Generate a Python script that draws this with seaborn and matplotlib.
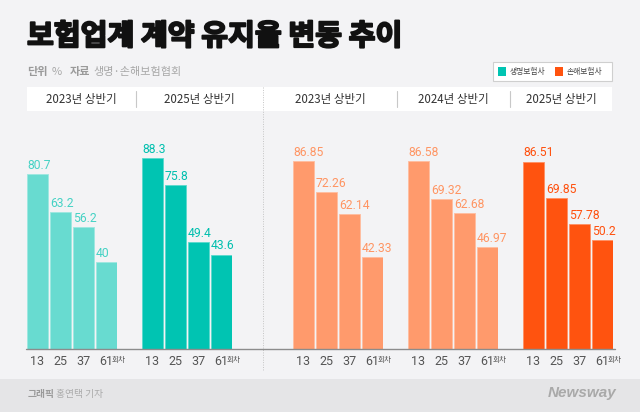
import matplotlib
matplotlib.use("Agg")
import numpy as np
import pandas as pd
import seaborn as sns
from matplotlib import pyplot as plt
from matplotlib import patheffects as pe
from matplotlib.lines import Line2D
from matplotlib.patches import Rectangle
from matplotlib.colors import to_rgb

rounds = ["13", "25", "37", "61"]
periods = ["2023년 상반기", "2025년 상반기", "2023년 상반기", "2024년 상반기", "2025년 상반기"]
sectors = ["생명보험사", "생명보험사", "손해보험사", "손해보험사", "손해보험사"]
life_2023 = [80.7, 63.2, 56.2, 40]
life_2025 = [88.3, 75.8, 49.4, 43.6]
nonlife_2023 = [86.85, 72.26, 62.14, 42.33]
nonlife_2024 = [86.58, 69.32, 62.68, 46.97]
nonlife_2025 = [86.51, 69.85, 57.78, 50.2]
series = [life_2023, life_2025, nonlife_2023, nonlife_2024, nonlife_2025]

bar_colors = ["#68dbd0", "#00c4b2", "#ff9a6c", "#ff9a6c", "#ff530f"]
text_colors = ["#45d2c4", "#00bfae", "#ff9563", "#ff9563", "#ff4f0c"]
legend_colors = {"생명보험사": "#00c4b2", "손해보험사": "#ff530f"}

W, H = 640, 412
BG = "#f3f3f5"
KR = ["Noto Sans CJK KR", "DejaVu Sans"]
NUM = ["Roboto", "Noto Sans CJK KR", "DejaVu Sans"]

sns.set_theme(style="white")
plt.rcParams["font.family"] = KR


def fx(x):
    return x / W


def fy(y):
    return 1 - y / H


def lighten(c, a):
    r, g, b = to_rgb(c)
    return (r + (1 - r) * a, g + (1 - g) * a, b + (1 - b) * a)


fig = plt.figure(figsize=(6.4, 4.12), dpi=100, facecolor=BG)

# footer band
fig.add_artist(Rectangle((0, 0), 1, fy(379), transform=fig.transFigure,
                         facecolor="#e5e5e7", edgecolor="none", zorder=0))

# title and source line
fig.text(fx(27), fy(36), "보험업계 계약 유지율 변동 추이", fontsize=21,
         fontweight="black", color="#111111", va="center", ha="left",
         path_effects=[pe.withStroke(linewidth=1.4, foreground="#111111")])
fig.text(fx(27), fy(72), "단위", fontsize=8, fontweight="bold", color="#9a9a9a", va="center")
fig.text(fx(52), fy(72), "%", fontsize=8, color="#a8a8a8", va="center")
fig.text(fx(70), fy(72), "자료", fontsize=8, fontweight="bold", color="#9a9a9a", va="center")
fig.text(fx(93), fy(72), "생명·손해보험협회", fontsize=8, color="#a8a8a8", va="center")

# legend box
fig.add_artist(Rectangle((fx(493), fy(81)), fx(612) - fx(493), fy(62) - fy(81),
                         transform=fig.transFigure, facecolor="white",
                         edgecolor="#cfcfcf", lw=0.8, zorder=2))
for (name, col), x0 in zip(legend_colors.items(), [498, 555]):
    fig.add_artist(Rectangle((fx(x0), fy(76)), fx(8), fy(67) - fy(76),
                             transform=fig.transFigure, facecolor=col,
                             edgecolor="none", zorder=3))
    fig.text(fx(x0 + 12), fy(71.5), name, fontsize=5.6, color="#444444",
             va="center", ha="left", zorder=4)

# header band
fig.add_artist(Rectangle((fx(27), fy(111)), fx(612) - fx(27), fy(87) - fy(111),
                         transform=fig.transFigure, facecolor="white",
                         edgecolor="none", zorder=1))
cells = [(27, 136), (136, 263), (263, 397), (397, 510), (510, 612)]
for (a, b), label in zip(cells, periods):
    fig.text(fx((a + b) / 2), fy(99), label, fontsize=8.3, color="#333333",
             ha="center", va="center", zorder=3)
for xs in [136, 397, 510]:
    fig.add_artist(Line2D([fx(xs), fx(xs)], [fy(91), fy(107)],
                          transform=fig.transFigure, color="#c8c8c8", lw=0.8, zorder=3))
fig.add_artist(Line2D([fx(263), fx(263)], [fy(87), fy(370)],
                      transform=fig.transFigure, color="#c4c4c4", lw=0.7,
                      ls=(0, (1, 1.5)), zorder=3))

# bars: one small axes per period
lefts = [27, 142, 293, 408, 523]
base = 349
px_per_unit = 2.167
bw = 21 / 23
for i, (vals, left) in enumerate(zip(series, lefts)):
    ax = fig.add_axes([fx(left), fy(base), fx(90), (100 * px_per_unit) / H])
    df = pd.DataFrame({"회차": rounds, "유지율": vals})
    sns.barplot(data=df, x="회차", y="유지율", color=bar_colors[i], width=bw,
                saturation=1, edgecolor=lighten(bar_colors[i], 0.35),
                linewidth=0.6, ax=ax)
    ax.set_xlim(-bw / 2, 3 + bw / 2)
    ax.set_ylim(0, 100)
    ax.set_facecolor("none")
    for s in ax.spines.values():
        s.set_visible(False)
    ax.set_yticks([])
    ax.set_xlabel("")
    ax.set_ylabel("")
    ax.set_xticks(range(len(rounds)))
    ax.set_xticklabels(rounds, fontsize=9, color="#555555", family=NUM)
    ax.tick_params(axis="x", length=0, pad=4)
    for p, v in zip(ax.patches, vals):
        ax.annotate(f"{v:g}", (p.get_x(), p.get_height()), xytext=(0, 1.5),
                    textcoords="offset points", ha="left", va="bottom",
                    fontsize=8.7, color=text_colors[i], family=NUM)
    ax.annotate("회차", (3, 0), xycoords=("data", "data"), xytext=(4, -7.6),
                textcoords="offset points", ha="left", va="center",
                fontsize=5.5, color="#555555", annotation_clip=False)

# baseline
fig.add_artist(Line2D([fx(26), fx(615)], [fy(base), fy(base)],
                      transform=fig.transFigure, color="#8c8c8c", lw=1, zorder=5))

# footer text
fig.text(fx(28), fy(394), "그래픽", fontsize=7, fontweight="bold", color="#9a9a9a", va="center")
fig.text(fx(56), fy(394), "홍연택 기자", fontsize=7, color="#aaaaaa", va="center")
fig.text(fx(616), fy(393), "Newsway", fontsize=11, fontweight="bold", style="italic",
         color="#a9a9a9", ha="right", va="center", family=["Liberation Sans", "DejaVu Sans"])

fig.savefig("out.png", dpi=100, facecolor=BG)
